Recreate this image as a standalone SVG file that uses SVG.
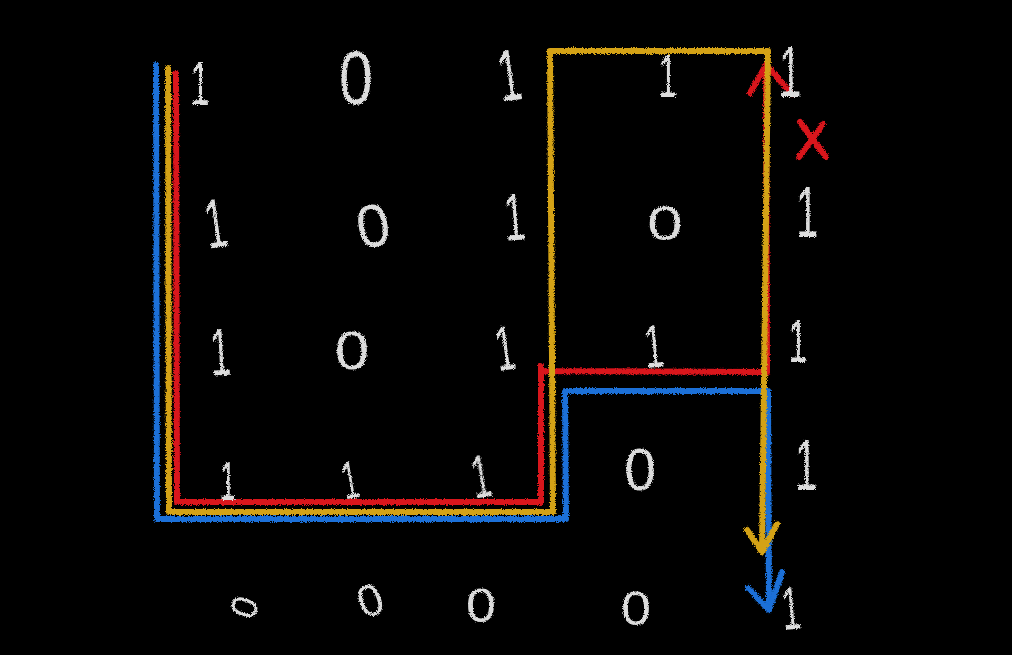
<svg xmlns="http://www.w3.org/2000/svg" width="1012" height="655" viewBox="0 0 1012 655">
  <defs>
    <filter id="chalk" filterUnits="userSpaceOnUse" x="0" y="0" width="1012" height="655">
      <feTurbulence type="fractalNoise" baseFrequency="0.9" numOctaves="2" seed="4" result="n"/>
      <feDisplacementMap in="SourceGraphic" in2="n" scale="4" xChannelSelector="R" yChannelSelector="G"/>
    </filter>
  </defs>
  <style>
    .d { font-family: "Liberation Sans", Arial, sans-serif; fill: #dcdcdc; text-anchor: middle; }
    .ln { fill: none; stroke-width: 6; stroke-linecap: round; stroke-linejoin: round; }
    .blue { stroke: #1a6fd8; }
    .yellow { stroke: #d4a214; }
    .red { stroke: #d9141c; }
  </style>
  <rect width="1012" height="655" fill="#000"/>

  <g id="connectors" filter="url(#chalk)">
    <path id="path-blue" class="ln blue" d="M156,65 L157,519 L566,519 L565,391 L768,391 L769,609"/>
    <path class="ln blue" d="M748,588 L769,610 L782,572"/>
    <path id="path-red" class="ln red" d="M176,73 L177,502 L541,502 L541,366 L541,371 L767,372 L766,66"/>
    <path class="ln red" d="M750,93 L766,65 L792,94"/>
    <path class="ln red" d="M800,122 L826,157 M823,124 L799,157"/>
    <path id="path-yellow" class="ln yellow" d="M168,68 L169,512 L553,512 L550,51 L768,51 L762,550"/>
    <path class="ln yellow" d="M747,530 L762,552 L777,524"/>
  </g>

  <g id="digits" filter="url(#chalk)">
    <!-- row 1 -->
    <text class="d" font-size="63" transform="translate(202 82) scale(0.55 1)" x="-4" y="22.5">1</text>
    <text class="d" font-size="76" transform="translate(356 77) scale(0.8 1)" y="27">0</text>
    <text class="d" font-size="73" transform="translate(512 74) rotate(-8) scale(0.55 1)" x="-5" y="26">1</text>
    <text class="d" font-size="61" transform="translate(670 75) scale(0.55 1)" x="-4" y="22">1</text>
    <text class="d" font-size="73" transform="translate(793 71) scale(0.55 1)" x="-5" y="26">1</text>
    <!-- row 2 -->
    <text class="d" font-size="70" transform="translate(218 222) rotate(-8) scale(0.55 1)" x="-5" y="25">1</text>
    <text class="d" font-size="60" transform="translate(373 225) rotate(-10) scale(1.0 1)" y="21.5">0</text>
    <text class="d" font-size="67" transform="translate(517 216) rotate(-4) scale(0.55 1)" x="-5" y="24">1</text>
    <text class="d" font-size="49" transform="translate(665 222) scale(1.3 1)" y="17.5">0</text>
    <text class="d" font-size="73" transform="translate(810 211) scale(0.55 1)" x="-5" y="26">1</text>
    <!-- row 3 -->
    <text class="d" font-size="67" transform="translate(223 351) rotate(-3) scale(0.55 1)" x="-5" y="24">1</text>
    <text class="d" font-size="54" transform="translate(352 350) scale(1.15 1)" y="19.3">0</text>
    <text class="d" font-size="63" transform="translate(507 347) rotate(-8) scale(0.55 1)" x="-4" y="22.5">1</text>
    <text class="d" font-size="61" transform="translate(656 345) rotate(-5) scale(0.55 1)" x="-4" y="22">1</text>
    <text class="d" font-size="61" transform="translate(800 340) scale(0.55 1)" x="-4" y="22">1</text>
    <!-- row 4 -->
    <text class="d" font-size="56" transform="translate(230 480) scale(0.55 1)" x="-4" y="20">1</text>
    <text class="d" font-size="53" transform="translate(352 479) rotate(-10) scale(0.55 1)" x="-4" y="19">1</text>
    <text class="d" font-size="61" transform="translate(483 475) rotate(-9) scale(0.55 1)" x="-4" y="22">1</text>
    <text class="d" font-size="60" transform="translate(640 468) scale(0.95 1)" y="21.5">0</text>
    <text class="d" font-size="73" transform="translate(809 464) scale(0.55 1)" x="-5" y="26">1</text>
    <!-- row 5 -->
    <text class="d" font-size="37" transform="translate(244 607) rotate(-70)" y="13.2">0</text>
    <text class="d" font-size="45" transform="translate(370 600) rotate(-20) scale(1.0 1)" y="16">0</text>
    <text class="d" font-size="49" transform="translate(481 604) scale(1.1 1)" y="17.5">0</text>
    <text class="d" font-size="49" transform="translate(636 607) scale(1.1 1)" y="17.5">0</text>
    <text class="d" font-size="61" transform="translate(793 607) rotate(-5) scale(0.55 1)" x="-4" y="22">1</text>
  </g>
</svg>
